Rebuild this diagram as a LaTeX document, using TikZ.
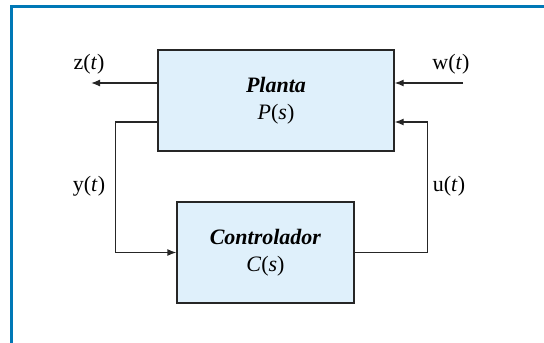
\documentclass[tikz,border=0pt]{standalone}
\usepackage{fontspec}
\setmainfont{Liberation Serif}
\usetikzlibrary{arrows.meta}
\definecolor{framebl}{RGB}{0,120,182}
\definecolor{boxfill}{RGB}{223,240,251}
\tikzset{
  blockbox/.style={draw=black!85, line width=1.3pt, fill=boxfill, align=center, inner sep=0pt},
  conn/.style={draw=black!85, line width=1.3pt},
  arr/.style={conn, -{Latex[length=9pt,width=7pt]}},
  sig/.style={inner sep=0pt}
}
\begin{document}
\begin{tikzpicture}[x=1pt,y=-1pt, font=\fontsize{22}{26}\selectfont]
\useasboundingbox (0,0) rectangle (544,343);
\draw[framebl, line width=3pt] (11.5,343) -- (11.5,6.5) -- (544,6.5);
\node[blockbox, minimum width=236pt, minimum height=101pt] (P) at (276,100.5)
  {\textbf{\textit{Planta}}\\[1pt] \textit{P}(\textit{s})};
\node[blockbox, minimum width=177pt, minimum height=101pt] (C) at (265.5,252.5)
  {\textbf{\textit{Controlador}}\\[1pt] \textit{C}(\textit{s})};
\coordinate (zend) at (91,83);
\coordinate (wstart) at (463,83);
\draw[arr] ([yshift=17.5pt]P.west) -- (zend);
\draw[arr] (wstart) -- ([yshift=17.5pt]P.east);
\draw[arr] ([yshift=-21.5pt]P.west) -- ++(-42,0) |- (C.west);
\draw[arr] (C.east) -- ++(73,0) |- ([yshift=-21.5pt]P.east);
\node[sig] (zl) at (89,64) {z(\textit{t})};
\node[sig] (wl) at (451,64) {w(\textit{t})};
\node[sig] (yl) at (89,186) {y(\textit{t})};
\node[sig] (ul) at (449,186) {u(\textit{t})};
\end{tikzpicture}
\end{document}
